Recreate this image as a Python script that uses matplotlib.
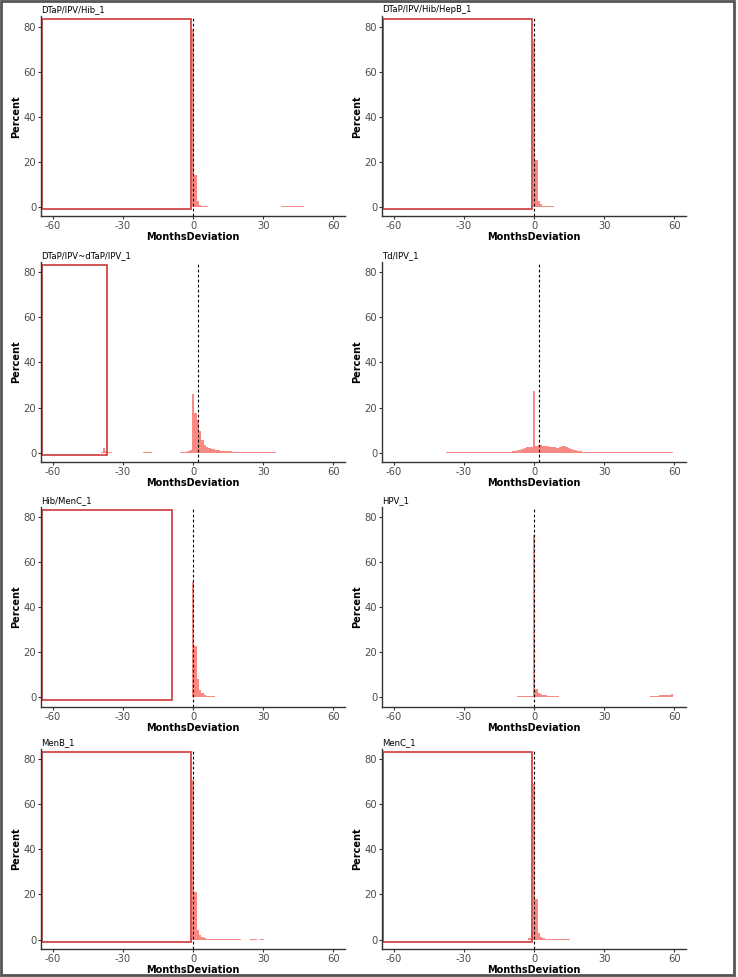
import matplotlib
matplotlib.use("Agg")
import matplotlib.pyplot as plt
from matplotlib.patches import Rectangle

plt.rcParams['axes.unicode_minus'] = False

# panel titles, dashed reference line and right edge of the highlighted box
titles = ['DTaP/IPV/Hib_1', 'DTaP/IPV/Hib/HepB_1', 'DTaP/IPV~dTaP/IPV_1', 'Td/IPV_1',
          'Hib/MenC_1', 'HPV_1', 'MenB_1', 'MenC_1']
vlines = [0, 0, 2, 2, 0, 0, 0, 0]
box_right = [-1, -1, -37, None, -9, None, -1, -1]

# percent per month bin: (first bin, heights) segments for each panel
dtap_hib = [(-1, [0.5, 79, 14, 2.5, 1.0, 0.5, 0.3, 0.2]),
            (38, [0.2, 0.2, 0.2, 0.2, 0.2, 0.2, 0.2, 0.2, 0.2, 0.2])]
dtap_hepb = [(-1, [0.5, 73.5, 20.6, 2.8, 1.5, 0.6, 0.4, 0.3, 0.2, 0.2, 0.15, 0.1,
                   0.1, 0.1, 0.1, 0.1, 0.1])]
dtap_dtap = [(-39, [0.5, 2.0, 0.8, 0.3, 0.1]),
             (-21, [0.15, 0.2, 0.2, 0.15]),
             (-5, [0.2, 0.3, 0.4, 0.6, 1.0, 25.8, 17.6, 14.7, 9.5, 5.8, 3.6, 2.6, 2.1,
                   1.7, 1.4, 1.2, 1.0, 0.9, 0.8, 0.7, 0.6, 0.55, 0.5, 0.45, 0.4, 0.35,
                   0.3, 0.3, 0.25, 0.25, 0.2, 0.2, 0.2, 0.15, 0.15, 0.1, 0.1, 0.1, 0.1,
                   0.1, 0.1])]
td_ipv = [(-37, [0.1, 0.1, 0.1, 0.1, 0.1, 0.1, 0.1, 0.1, 0.1, 0.1, 0.1, 0.1, 0.1,
                 0.1, 0.1, 0.1, 0.1, 0.1, 0.15, 0.15, 0.15, 0.15]),
          (-15, [0.2, 0.25, 0.3, 0.35, 0.4, 0.5, 0.6, 0.8, 1.0, 1.3, 1.6, 2.0, 2.3,
                 2.5, 2.6, 27.5, 3.0, 3.2, 3.2, 3.1, 3.0, 2.8, 2.6, 2.4, 2.3, 2.2,
                 2.4, 2.8, 2.9, 2.6, 2.2, 1.8, 1.3, 1.0, 0.8, 0.6]),
          (21, [0.5, 0.5, 0.45, 0.45, 0.4, 0.4, 0.4, 0.35, 0.35, 0.35, 0.3, 0.3,
                0.3, 0.3, 0.3, 0.3, 0.25, 0.25, 0.25, 0.25, 0.25, 0.25, 0.25, 0.25,
                0.2, 0.2, 0.2, 0.2, 0.2, 0.2, 0.2, 0.2, 0.2, 0.2, 0.2, 0.2, 0.2,
                0.2, 0.2])]
hib_menc = [(-1, [0.3, 51, 23, 8, 3.5, 2.0, 1.2, 0.8, 0.6, 0.5, 0.45, 0.4, 0.35,
                  0.3, 0.3, 0.3, 0.25, 0.25, 0.2, 0.2, 0.2, 0.2, 0.2, 0.2, 0.2, 0.2,
                  0.2, 0.25, 0.3, 0.35, 0.4, 0.35, 0.3, 0.25, 0.2, 0.2, 0.2, 0.2,
                  0.2, 0.15, 0.15, 0.15, 0.15, 0.15, 0.15, 0.15, 0.1, 0.1, 0.1, 0.1,
                  0.1, 0.1, 0.1, 0.1])]
hpv = [(-12, [0.3, 0.3, 0.35, 0.4, 0.4, 0.45, 0.5, 0.5, 0.55, 0.6, 0.6, 0.7, 72,
              3.8, 2.2, 1.5, 1.2, 1.0, 0.8, 0.7, 0.6, 0.5, 0.45, 0.4, 0.35, 0.3,
              0.3, 0.25, 0.25, 0.2, 0.2, 0.15, 0.15, 0.15, 0.1, 0.1, 0.1, 0.1]),
       (48, [0.3, 0.4, 0.5, 0.6, 0.7, 0.8, 0.9, 1.0, 1.1, 1.2, 1.3, 1.4])]
menb = [(-1, [0.5, 71, 21, 4.4, 2.0, 1.0, 0.6, 0.4, 0.3, 0.3, 0.25, 0.2, 0.2, 0.2,
              0.2, 0.15, 0.15, 0.15, 0.15, 0.1, 0.1, 0.1]),
        (25, [0.1, 0.1, 0.1]),
        (29, [0.1, 0.1])]
menc = [(-2, [0.5, 4.4, 69, 18, 3.0, 1.2, 0.6, 0.4, 0.3, 0.3, 0.2, 0.2, 0.2, 0.15,
              0.15, 0.1, 0.1, 0.1])]

panel_data = [dtap_hib, dtap_hepb, dtap_dtap, td_ipv, hib_menc, hpv, menb, menc]

fig = plt.figure(figsize=(7.38, 9.77), dpi=100)

lefts = [0.0556, 0.5176]
bottoms = [0.7785, 0.527, 0.2764, 0.0286]
w, h = 0.412, 0.2047

for i, title in enumerate(titles):
    ax = fig.add_axes([lefts[i % 2], bottoms[i // 2], w, h])
    for start, pct in panel_data[i]:
        xs = [start + k for k in range(len(pct))]
        ax.bar(xs, pct, width=1.0, color='#F8766D', alpha=0.85, linewidth=0)
    ax.axvline(vlines[i], color='black', linestyle=(0, (2.5, 2)), linewidth=0.8)
    if box_right[i] is not None:
        ax.add_patch(Rectangle((-64.5, -1), box_right[i] + 64.5, 84.3,
                               fill=False, edgecolor='#D04848', linewidth=1.3))
    ax.set_xlim(-65.1, 65.1)
    ax.set_ylim(-4.2, 84.5)
    ax.set_xticks([-60, -30, 0, 30, 60])
    ax.set_yticks([0, 20, 40, 60, 80])
    ax.tick_params(labelsize=7.2, labelcolor='#4D4D4D', color='#333333',
                   length=2, pad=1.5)
    for s in ['top', 'right']:
        ax.spines[s].set_visible(False)
    for s in ['left', 'bottom']:
        ax.spines[s].set_color('#333333')
        ax.spines[s].set_linewidth(1.0)
    ax.set_xlabel('MonthsDeviation', fontsize=7, fontweight='bold', labelpad=0.5)
    ax.set_ylabel('Percent', fontsize=7, fontweight='bold', labelpad=1.5)
    ax.set_title(title, loc='left', fontsize=6.1, pad=3)

fig.patches.append(Rectangle((0.001, 0.002), 0.993, 0.997, transform=fig.transFigure,
                             fill=False, edgecolor='#555555', linewidth=2))

fig.savefig('out.png', dpi=100)
